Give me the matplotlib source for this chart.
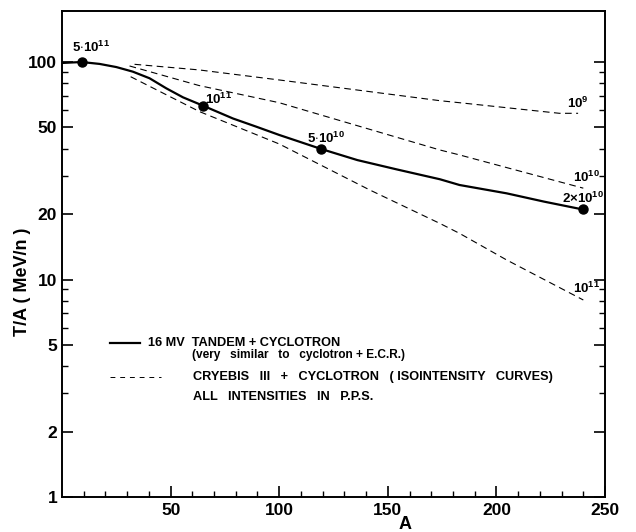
import numpy as np
import matplotlib.pyplot as plt
from matplotlib.ticker import FixedLocator, NullFormatter

plt.rcParams['font.family'] = ['Liberation Sans', 'DejaVu Sans']
plt.rcParams['mathtext.fontset'] = 'custom'
plt.rcParams['mathtext.rm'] = 'Liberation Sans:bold'
plt.rcParams['mathtext.bf'] = 'Liberation Sans:bold'
plt.rcParams['mathtext.default'] = 'bf'

# 16 MV tandem + cyclotron (solid)
tandem_A = [0, 9, 17.3, 25, 32.6, 40.3, 48, 55.7, 64.9, 78.7, 89.5, 100, 119.4,
            136, 154, 174, 183, 204.7, 222, 239.7]
tandem_T = [99, 100, 98, 94.8, 90.3, 84.2, 75.7, 68.8, 63, 55, 50.4, 46.2, 39.8,
            35.4, 32.1, 28.9, 27.2, 24.9, 22.8, 21.0]
# marked points and their intensities
mark_A = [9, 64.9, 119.4, 239.7]
mark_T = [100, 63, 39.8, 21.0]
mark_lbl = [r'5$\cdot$10$^{11}$', r'10$^{11}$', r'5$\cdot$10$^{10}$', r'2$\times$10$^{10}$']
mark_lbl_A = [4.4, 65.7, 112.7, 230.2]
mark_lbl_T = [111, 64.1, 42.4, 22.5]

# CRYEBIS III + cyclotron isointensity curves (dashed)
i9_A = [33.4, 63, 100, 174, 183, 229, 237.6]
i9_T = [97.6, 92, 82.7, 66.4, 65, 58.1, 58.1]
i10_A = [31.1, 63, 100, 174, 183, 240]
i10_T = [95.9, 78, 65, 39.4, 37.4, 26.3]
i11_A = [31.6, 63.4, 100, 141.7, 174, 183, 204.7, 240]
i11_T = [85.6, 59.1, 42.0, 25.8, 18.1, 16.3, 12.3, 8.05]
iso_lbl = [r'10$^{9}$', r'10$^{10}$', r'10$^{11}$']
iso_lbl_A = [232.5, 235.3, 235.3]
iso_lbl_T = [61.5, 28.1, 8.67]

fig = plt.figure(figsize=(6.36, 5.32), dpi=100)
ax = fig.add_axes([0.0975, 0.0658, 0.8538, 0.9135])

ax.plot(tandem_A, tandem_T, color='black', lw=1.6, solid_joinstyle='round')
ax.plot(mark_A, mark_T, 'o', color='black', ms=6.5)
for a, t, s in zip(mark_lbl_A, mark_lbl_T, mark_lbl):
    ax.text(a, t, s, fontsize=9.5, fontweight='bold', ha='left', va='baseline')

dash = (0, (6, 4))
for xs, ys in [(i9_A, i9_T), (i10_A, i10_T), (i11_A, i11_T)]:
    ax.plot(xs, ys, color='black', lw=0.8, linestyle=dash)
for a, t, s in zip(iso_lbl_A, iso_lbl_T, iso_lbl):
    ax.text(a, t, s, fontsize=9.5, fontweight='bold', ha='left', va='baseline')

ax.set_xlim(0, 250)
ax.set_ylim(1, 171.6)
ax.set_yscale('log')

ax.xaxis.set_major_locator(FixedLocator([50, 100, 150, 200, 250]))
ax.xaxis.set_minor_locator(FixedLocator(list(range(10, 250, 10))))
ax.set_xticklabels(['50', '100', '150', '200', '250'])
ax.yaxis.set_major_locator(FixedLocator([1, 2, 5, 10, 20, 50, 100]))
ax.yaxis.set_minor_locator(FixedLocator([3, 4, 6, 7, 8, 9, 30, 40, 60, 70, 80, 90]))
ax.set_yticklabels(['1', '2', '5', '10', '20', '50', '100'])
ax.yaxis.set_minor_formatter(NullFormatter())

ax.tick_params(axis='both', which='both', direction='in', colors='black')
ax.tick_params(axis='y', which='both', right=True)
ax.tick_params(which='major', length=8, width=1.2)
ax.tick_params(which='minor', length=4, width=1.0)
ax.tick_params(axis='both', labelsize=12.5)
ax.tick_params(axis='x', pad=4)
for lab in ax.get_xticklabels() + ax.get_yticklabels():
    lab.set_fontweight('bold')
for sp in ax.spines.values():
    sp.set_linewidth(1.4)

ax.set_xlabel('A', fontsize=13, fontweight='bold')
ax.xaxis.set_label_coords(0.632, -0.039)
ax.set_ylabel('T/A ( MeV/n )', fontsize=13, fontweight='bold')
ax.yaxis.set_label_coords(-0.057, 0.442)

# legend drawn as text in the plot
tr = ax.transAxes
ax.plot([0.088, 0.144], [0.317, 0.317], transform=tr, color='black', lw=1.6)
ax.text(0.158, 0.317, '16 MV  TANDEM + CYCLOTRON', transform=tr, fontsize=9.2,
        fontweight='bold', va='center')
ax.text(0.239, 0.293, '(very   similar   to   cyclotron + E.C.R.)', transform=tr,
        fontsize=8.6, fontweight='bold', va='center')
ax.plot([0.088, 0.182], [0.247, 0.247], transform=tr, color='black', lw=0.7,
        linestyle=(0, (5, 5)))
ax.text(0.241, 0.247, 'CRYEBIS   III   +   CYCLOTRON   ( ISOINTENSITY   CURVES)',
        transform=tr, fontsize=9.2, fontweight='bold', va='center')
ax.text(0.241, 0.206, 'ALL   INTENSITIES   IN   P.P.S.', transform=tr, fontsize=9.2,
        fontweight='bold', va='center')

fig.savefig('out.png', dpi=100)
